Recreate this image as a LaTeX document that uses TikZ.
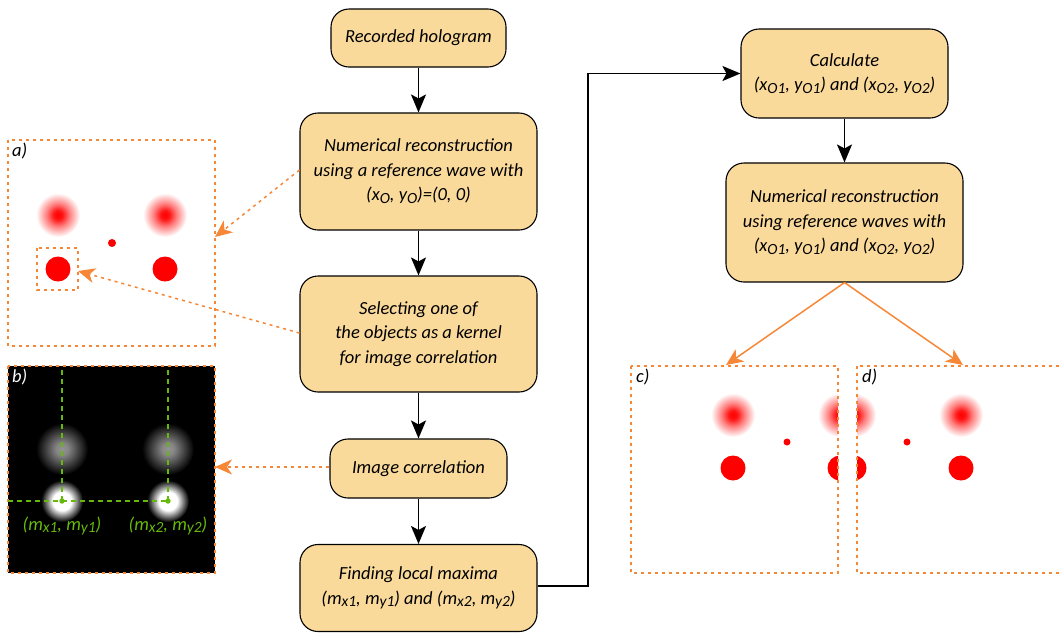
\documentclass[tikz,border=0pt]{standalone}
\usepackage{fontspec}
\setmainfont{Carlito}
\usetikzlibrary{arrows.meta}
\definecolor{boxfill}{RGB}{250,218,155}
\definecolor{orng}{RGB}{245,135,55}
\definecolor{grn}{RGB}{102,185,10}
\pgfdeclareradialshading{redblur}{\pgfpoint{0bp}{0bp}}{color(0bp)=(red); color(5bp)=(red!92!white); color(13bp)=(red!50!white); color(25bp)=(white); color(50bp)=(white)}
\pgfdeclareradialshading{grayblur}{\pgfpoint{0bp}{0bp}}{color(0bp)=(black!42); color(6bp)=(black!48); color(25bp)=(black); color(50bp)=(black)}
\pgfdeclareradialshading{whiteblur}{\pgfpoint{0bp}{0bp}}{color(0bp)=(white); color(11bp)=(white); color(25bp)=(black); color(50bp)=(black)}
\newcommand\sbs[1]{\raisebox{-0.3ex}{\fontsize{15.5}{15.5}\selectfont #1}}
\tikzset{
  stepbox/.style={draw=black, line width=1.1pt, fill=boxfill, rounded corners=18pt, align=center, inner sep=0pt,
    font=\itshape\fontsize{18.5}{24.5}\selectfont},
  flow/.style={line width=1.8pt, -{Stealth[length=18pt,width=15pt,inset=4pt]}},
  orarrow/.style={orng, line width=1.5pt, dash pattern=on 3pt off 4pt, -{Stealth[length=17pt,width=15pt,inset=5pt]}},
  orsolid/.style={orng, line width=1.5pt, -{Stealth[length=17pt,width=15pt,inset=5pt]}},
  panel/.style={orng, line width=1.5pt, dash pattern=on 3pt off 4pt},
  gline/.style={grn, line width=1.3pt, dash pattern=on 5pt off 4pt},
  plabel/.style={font=\itshape\fontsize{18.5}{20}\selectfont, inner sep=0pt},
  glabel/.style={grn, font=\itshape\fontsize{18.5}{20}\selectfont, inner sep=0pt},
}
\begin{document}
\begin{tikzpicture}[x=1pt,y=-1pt]
\useasboundingbox (0,0) rectangle (1060,633);
% flow boxes
\node[stepbox, minimum width=175pt, minimum height=58pt] (b1) at (418.5,38) {Recorded hologram};
\node[stepbox, minimum width=237pt, minimum height=117pt] (b2) at (418.5,171.5) {Numerical reconstruction\\using a reference wave with\\(x\sbs{O}, y\sbs{O})=(0, 0)};
\node[stepbox, minimum width=237pt, minimum height=116pt] (b3) at (418.5,334) {Selecting one of\\the objects as a kernel\\for image correlation};
\node[stepbox, minimum width=177pt, minimum height=59pt] (b4) at (418.5,468.5) {Image correlation};
\node[stepbox, minimum width=237pt, minimum height=87pt] (b5) at (418.5,588) {Finding local maxima\\(m\sbs{x1}, m\sbs{y1}) and (m\sbs{x2}, m\sbs{y2})};
\node[stepbox, minimum width=207pt, minimum height=89pt] (b6) at (844.5,73.5) {Calculate\\(x\sbs{O1}, y\sbs{O1}) and (x\sbs{O2}, y\sbs{O2})};
\node[stepbox, minimum width=237pt, minimum height=119pt] (b7) at (844.5,222.5) {Numerical reconstruction\\using reference waves with\\(x\sbs{O1}, y\sbs{O1}) and (x\sbs{O2}, y\sbs{O2})};
\draw[flow] (b1) -- (b2);
\draw[flow] (b2) -- (b3);
\draw[flow] (b3) -- (b4);
\draw[flow] (b4) -- (b5);
\coordinate (turn) at (588,586);
\draw[flow] (b5.east |- turn) -- (turn) |- (b6.west);
\draw[flow] (b6) -- (b7);
% panel a
\coordinate (pa1) at (8,140); \coordinate (pa2) at (215,346);
\shade[shading=redblur] (58,215) circle (22);
\shade[shading=redblur] (165,215) circle (22);
\fill[red] (112,243) circle (4);
\fill[red] (58,269) circle (12.5);
\fill[red] (165,269) circle (12.5);
\draw[panel] (pa1) rectangle (pa2);
\node[plabel, anchor=north west] (la) at (12,143) {a)};
\coordinate (ka1) at (37,248); \coordinate (ka2) at (78,290);
\draw[panel] (ka1) rectangle (ka2);
\coordinate (katip) at (78,271);
\coordinate (patip) at (215,237);
% panel b
\coordinate (pb1) at (8,366); \coordinate (pb2) at (215,573);
\fill[black] (pb1) rectangle (pb2);
\begin{scope}
\clip (pb1) rectangle (pb2);
\shade[shading=grayblur] (62,449) circle (26);
\shade[shading=grayblur] (168,449) circle (26);
\shade[shading=whiteblur] (62,501) circle (21);
\shade[shading=whiteblur] (168,501) circle (21);
\end{scope}
\draw[panel] (pb1) rectangle (pb2);
\node[plabel, white, anchor=north west] (lb) at (12,369) {b)};
\coordinate (g1) at (62,501); \coordinate (g2) at (168,501);
\draw[gline] (g1) -- (62,366);
\draw[gline] (g2) -- (168,366);
\draw[gline] (8,501) -- (g2);
\fill[grn] (g1) circle (2.7);
\fill[grn] (g2) circle (2.7);
\node[glabel] (m1) at (62,526) {(m\sbs{x1}, m\sbs{y1})};
\node[glabel] (m2) at (168,526) {(m\sbs{x2}, m\sbs{y2})};
\coordinate (pbtip) at (215,467);
% panel c
\coordinate (pc1) at (631,366); \coordinate (pc2) at (838,573);
\begin{scope}
\clip (pc1) rectangle (pc2);
\shade[shading=redblur] (733,415) circle (22);
\shade[shading=redblur] (840,415) circle (22);
\fill[red] (787,442) circle (3.5);
\fill[red] (733,468) circle (12.5);
\fill[red] (840,468) circle (12.5);
\end{scope}
\draw[panel] (pc1) rectangle (pc2);
\node[plabel, anchor=north west] (lc) at (636,369) {c)};
% panel d
\coordinate (pd1) at (857,366); \coordinate (pd2) at (1066,573);
\begin{scope}
\clip (pd1) rectangle (pd2);
\shade[shading=redblur] (854,415) circle (22);
\shade[shading=redblur] (961,415) circle (22);
\fill[red] (907,442) circle (3.5);
\fill[red] (854,468) circle (12.5);
\fill[red] (961,468) circle (12.5);
\end{scope}
\draw[panel] (pd1) rectangle (pd2);
\node[plabel, anchor=north west] (ld) at (862,369) {d)};
% orange connectors
\draw[orarrow] (b2.west |- 0,170) -- (patip);
\draw[orarrow] (b3.west |- 0,333) -- (katip);
\draw[orarrow] (b4.west |- 0,467) -- (pbtip);
\coordinate (ctip) at (726,365);
\coordinate (dtip) at (963,365);
\draw[orsolid] (b7.south) -- (ctip);
\draw[orsolid] (b7.south) -- (dtip);
\end{tikzpicture}
\end{document}
